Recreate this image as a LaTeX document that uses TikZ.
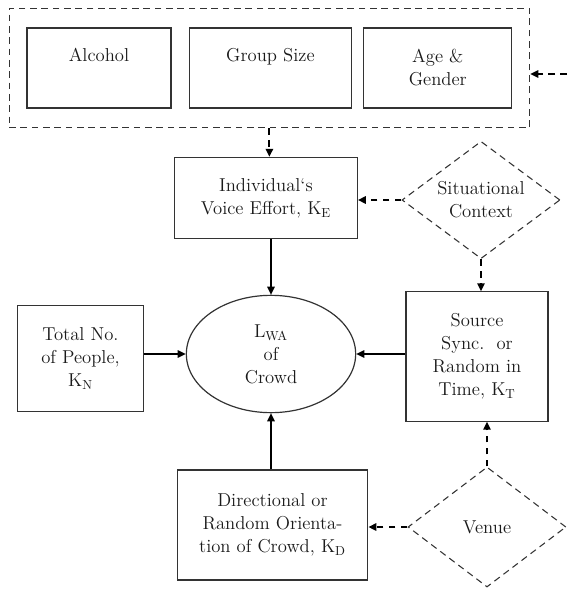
\documentclass[tikz,border=0pt]{standalone}
\usepackage{xcolor}
\definecolor{lineDark}{HTML}{333333}
\definecolor{textDark}{HTML}{1A1A1A}
\usepackage{tikz}
\usetikzlibrary{
    shapes.geometric,
    arrows.meta,
    positioning,
    fit
}
\tikzset{
    % Base style for all text nodes
    paper base/.style={
        font=\fontsize{14}{17.25}\selectfont,
        align=center,
        text=textDark,
        inner sep=2pt,
    },
    % Factor boxes inside the dashed group
    factor/.style={
        paper base,
        rectangle,
        draw=lineDark,
        line width=0.8pt,
        minimum height=60pt,
    },
    % Single line sitting in the upper half of a factor box
    upper text/.style={
        text depth=20pt,
    },
    % Dashed frame round the factors
    group frame/.style={
        rectangle,
        draw=lineDark,
        line width=0.9pt,
        dash pattern=on 5pt off 3.5pt,
    },
    % Parameter boxes - plain rectangle
    param/.style={
        paper base,
        rectangle,
        draw=lineDark,
        line width=0.8pt,
    },
    % Result ellipse
    result/.style={
        paper base,
        ellipse,
        draw=lineDark,
        line width=0.9pt,
        minimum width=127pt,
        minimum height=88pt,
        inner sep=0pt,
    },
    % Context diamonds - dashed outline
    context/.style={
        paper base,
        diamond,
        aspect=1.36,
        draw=lineDark,
        line width=0.8pt,
        dash pattern=on 5pt off 3.5pt,
        minimum width=118.5pt,
        minimum height=88pt,
        inner sep=0pt,
    },
    % Solid arrow
    arrow/.style={
        -{Triangle[length=6pt, width=5.5pt]},
        line width=1.6pt,
        draw=black,
    },
    % Dashed arrow variant
    arrow dashed/.style={
        arrow,
        dash pattern=on 5pt off 4pt,
        line width=1.4pt,
    },
}

\begin{document}
\begin{tikzpicture}[x=0.75pt, y=-0.75pt]
    \useasboundingbox (0,0) rectangle (567,595);

    % Factors
    \node (alcohol) [factor, upper text, minimum width=108pt] at (99,68) {Alcohol};
    \node (groupsize) [factor, upper text, minimum width=122pt, right=12.75pt of alcohol] {Group Size};
    \node (agegender) [factor, minimum width=111pt, right=8.25pt of groupsize] {Age \&\\Gender};
    \node (factors) [group frame, fit=(alcohol)(agegender), inner xsep=13pt, inner ysep=14.5pt] {};
    \coordinate (outside) at (567,74);

    % Parameters
    \node (effort) [param, minimum width=137pt, minimum height=61pt] at (266,198) {Individual`s\\Voice Effort, K\textsubscript{E}};
    \node (situation) [context] at (481,200) {Situational\\Context};
    \node (crowd) [result] at (271,354) {L\textsubscript{WA}\\of\\Crowd};
    \node (people) [param, minimum width=94pt, minimum height=80pt] at (80.5,358.5) {Total No.\\of People,\\K\textsubscript{N}};
    \node (timing) [param, minimum width=106.5pt, minimum height=97pt] at (477,356.5) {Source\\Sync.\ \ or\\Random in\\Time, K\textsubscript{T}};
    \node (orient) [param, minimum width=143pt, minimum height=82.5pt] at (272.5,525) {Directional or\\Random Orienta-\\tion of Crowd, K\textsubscript{D}};
    \node (venue) [context, minimum height=90pt] at (487,527) {Venue};

    % Connectors
    \draw [arrow dashed] (outside) -- (outside -| factors.east);
    \draw [arrow dashed] (factors.south) -- (factors.south |- effort.north);
    \draw [arrow dashed] (situation.west) -- (situation.west -| effort.east);
    \draw [arrow dashed] (situation.south) -- (situation.south |- timing.north);
    \draw [arrow dashed] (venue.north) -- (venue.north |- timing.south);
    \draw [arrow dashed] (venue.west) -- (venue.west -| orient.east);
    \draw [arrow] (crowd.north |- effort.south) -- (crowd.north);
    \draw [arrow] (crowd.south |- orient.north) -- (crowd.south);
    \draw [arrow] (people.east |- crowd.west) -- (crowd.west);
    \draw [arrow] (timing.west |- crowd.east) -- (crowd.east);
\end{tikzpicture}
\end{document}
